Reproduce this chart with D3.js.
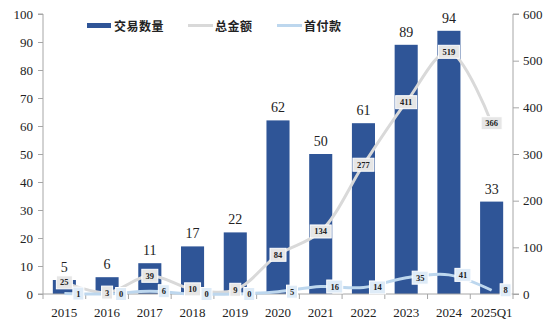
<!DOCTYPE html>
<html><head><meta charset="utf-8">
<script src="https://cdn.jsdelivr.net/npm/d3@7/dist/d3.min.js"></script>
<style>body{margin:0;background:#fff}svg{display:block}</style>
</head><body><svg id="c" width="554" height="330"></svg>
<script>
const categories = ["2015","2016","2017","2018","2019","2020","2021","2022","2023","2024","2025Q1"];
const dealCount = [5,6,11,17,22,62,50,61,89,94,33];
const totalAmount = [25,3,39,10,9,84,134,277,411,519,366];
const downPayment = [1,0,6,0,0,5,16,14,35,41,8];
const leftTicks = [0,10,20,30,40,50,60,70,80,90,100];
const rightTicks = [0,100,200,300,400,500,600];
const legendNames = ["交易数量","总金额","首付款"];

const svg = d3.select("#c");
const L = 43, R = 513, T = 14, B = 294;
const serif = "'Liberation Serif','Times New Roman',serif";
const cjk = "'Noto Sans CJK SC',sans-serif";
const x = d3.scaleBand().domain(categories).range([L, R]).paddingInner(0.46).paddingOuter(0.23);
const xb = d3.scaleBand().domain(categories).range([L, R]);
const yL = d3.scaleLinear().domain([0,100]).range([B, T]);
const yR = d3.scaleLinear().domain([0,600]).range([B, T]);
const cx = d => xb(d) + xb.bandwidth()/2;

// axes
const axisColor = "#a6a6a6";
const gl = svg.append("g").attr("transform", `translate(${L},0)`)
  .call(d3.axisLeft(yL).tickValues(leftTicks).tickSize(5).tickPadding(5));
const gr = svg.append("g").attr("transform", `translate(${R},0)`)
  .call(d3.axisRight(yR).tickValues(rightTicks).tickSize(6).tickPadding(4));
[gl, gr].forEach(g => {
  g.select(".domain").attr("stroke", axisColor);
  g.selectAll(".tick line").attr("stroke", axisColor);
  g.selectAll("text").attr("font-family", serif).attr("font-size", 13).attr("fill", "#222");
});
gl.select(".domain").attr("d", `M-5,${T}H0V${B}H-5`);
gr.select(".domain").attr("d", `M6,${T}H0V${B}H6`);

// bars
svg.append("g").selectAll("rect").data(categories).join("rect")
  .attr("x", d => x(d)).attr("width", x.bandwidth())
  .attr("y", (d,i) => yL(dealCount[i])).attr("height", (d,i) => B - yL(dealCount[i]))
  .attr("fill", "#2f5597");
svg.append("g").selectAll("text").data(categories).join("text")
  .attr("x", d => cx(d)).attr("y", (d,i) => yL(dealCount[i]) - 8)
  .attr("text-anchor", "middle").attr("font-family", serif).attr("font-size", 14).attr("fill", "#222")
  .text((d,i) => dealCount[i]);

// x axis
const gx = svg.append("g").attr("transform", `translate(0,${B})`);
gx.append("line").attr("x1", L).attr("x2", R).attr("stroke", axisColor);
const bounds = categories.map(d => xb(d)).concat([R]);
gx.selectAll("line.t").data(bounds).join("line").attr("class","t")
  .attr("x1", d => d).attr("x2", d => d).attr("y1", 0).attr("y2", 5).attr("stroke", axisColor);
gx.selectAll("text").data(categories).join("text")
  .attr("x", d => cx(d)).attr("y", 23).attr("text-anchor", "middle")
  .attr("font-family", serif).attr("font-size", 13).attr("fill", "#222").text(d => d);

// lines
const curve = d3.curveCatmullRom.alpha(0.5);
const lineTotal = d3.line().x(d => cx(d)).y((d,i) => yR(totalAmount[i])).curve(curve);
const lineDown = d3.line().x(d => cx(d)).y((d,i) => yR(downPayment[i])).curve(curve);
svg.append("path").datum(categories).attr("d", lineTotal).attr("fill","none")
  .attr("stroke", "#d9d9d9").attr("stroke-width", 3);
svg.append("path").datum(categories).attr("d", lineDown).attr("fill","none")
  .attr("stroke", "#bdd7ee").attr("stroke-width", 3);

function labels(vals, dx, fill, stroke) {
  const g = svg.append("g");
  categories.forEach((d,i) => {
    const s = String(vals[i]);
    const w = 6 + s.length * 5;
    const px = cx(d) + dx, py = yR(vals[i]);
    g.append("rect").attr("x", px - w/2).attr("y", py - 6.5).attr("width", w).attr("height", 13)
      .attr("fill", fill).attr("stroke", stroke).attr("stroke-width", 1);
    g.append("text").attr("x", px).attr("y", py + 3).attr("text-anchor", "middle")
      .attr("font-family", serif).attr("font-size", 8.5).attr("font-weight", "bold").attr("fill", "#222").text(s);
  });
}
labels(totalAmount, 0, "#e6e6e6", "#ffffff");
labels(downPayment, 14, "#deebf7", "#ffffff");

// legend
const lg = svg.append("g").attr("font-family", cjk).attr("font-size", 12).attr("font-weight", "bold").attr("fill", "#222");
lg.append("rect").attr("x", 87).attr("y", 23).attr("width", 24).attr("height", 5).attr("fill", "#2f5597");
lg.append("text").attr("x", 114).attr("y", 30.5).text(legendNames[0]).attr("letter-spacing", 0.5);
lg.append("line").attr("x1", 188).attr("x2", 213).attr("y1", 25.5).attr("y2", 25.5).attr("stroke", "#d9d9d9").attr("stroke-width", 3);
lg.append("text").attr("x", 215).attr("y", 30.5).text(legendNames[1]).attr("letter-spacing", 0.5);
lg.append("line").attr("x1", 277).attr("x2", 302).attr("y1", 25.5).attr("y2", 25.5).attr("stroke", "#bdd7ee").attr("stroke-width", 3);
lg.append("text").attr("x", 304).attr("y", 30.5).text(legendNames[2]).attr("letter-spacing", 0.5);
</script></body></html>
